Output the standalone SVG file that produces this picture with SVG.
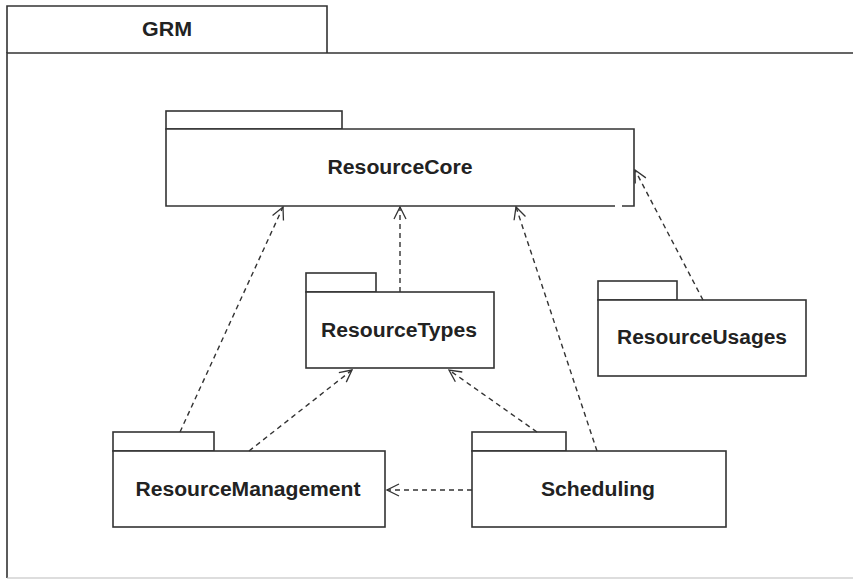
<svg xmlns="http://www.w3.org/2000/svg" width="853" height="579" viewBox="0 0 853 579">
<defs>
<style>
.box{fill:#fff;stroke:#333;stroke-width:1.6}
.lbl{font-family:"Liberation Sans",Arial,sans-serif;font-weight:bold;font-size:20px;fill:#222;text-anchor:middle}
.dep{fill:none;stroke:#333;stroke-width:1.4;stroke-dasharray:5,4}
</style>
<marker id="open" viewBox="0 0 14 14" refX="13" refY="7" markerWidth="14" markerHeight="14" markerUnits="userSpaceOnUse" orient="auto">
<path d="M1,1 L13,7 L1,13" fill="none" stroke="#333" stroke-width="1.3"/>
</marker>
</defs>
<rect width="853" height="579" fill="#fff"/>
<g id="GRM">
<path class="box" d="M7,53 L7,6 L327,6 L327,53"/>
<path d="M7,578 L7,53 L853,53" fill="none" stroke="#333" stroke-width="1.6"/>
<line x1="7" y1="578" x2="853" y2="578" stroke="#bbb" stroke-width="1"/>
<text class="lbl" x="167" y="36" textLength="50" lengthAdjust="spacingAndGlyphs">GRM</text>
</g>
<g id="ResourceCore">
<rect class="box" x="166" y="111" width="176" height="18"/>
<rect x="166" y="129" width="468" height="77" fill="#fff"/>
<path d="M622,206 L634,206 L634,129 L166,129 L166,206 L615,206" fill="none" stroke="#333" stroke-width="1.6"/>
<text class="lbl" x="400" y="174" textLength="145" lengthAdjust="spacingAndGlyphs">ResourceCore</text>
</g>
<g id="ResourceTypes">
<rect class="box" x="306" y="273" width="70" height="19"/>
<rect class="box" x="306" y="292" width="188" height="76"/>
<text class="lbl" x="399" y="337" textLength="156" lengthAdjust="spacingAndGlyphs">ResourceTypes</text>
</g>
<g id="ResourceUsages">
<rect class="box" x="598" y="281" width="79" height="19"/>
<rect class="box" x="598" y="300" width="208" height="76"/>
<text class="lbl" x="702" y="344" textLength="170" lengthAdjust="spacingAndGlyphs">ResourceUsages</text>
</g>
<g id="ResourceManagement">
<rect class="box" x="113" y="432" width="101" height="19"/>
<rect class="box" x="113" y="451" width="272" height="76"/>
<text class="lbl" x="248" y="496" textLength="225" lengthAdjust="spacingAndGlyphs">ResourceManagement</text>
</g>
<g id="Scheduling">
<rect class="box" x="472" y="432" width="94" height="19"/>
<rect class="box" x="472" y="451" width="254" height="76"/>
<text class="lbl" x="598" y="496" textLength="114" lengthAdjust="spacingAndGlyphs">Scheduling</text>
</g>
<g id="connectors">
<line class="dep" x1="180" y1="432" x2="283" y2="207" marker-end="url(#open)"/>
<line class="dep" x1="249" y1="451" x2="352" y2="370" marker-end="url(#open)"/>
<line class="dep" x1="400" y1="292" x2="400" y2="207" marker-end="url(#open)"/>
<line class="dep" x1="537" y1="432" x2="449" y2="370" marker-end="url(#open)"/>
<line class="dep" x1="597" y1="451" x2="516" y2="207" marker-end="url(#open)"/>
<line class="dep" x1="703" y1="300" x2="635" y2="170" marker-end="url(#open)"/>
<line class="dep" x1="472" y1="490" x2="387" y2="490" marker-end="url(#open)"/>
</g>
</svg>
